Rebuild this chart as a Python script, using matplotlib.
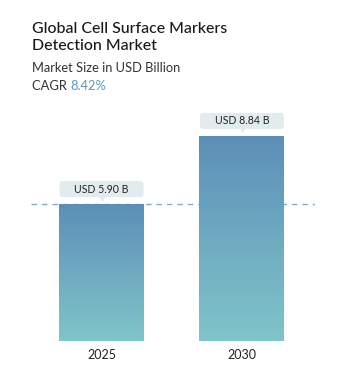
import numpy as np
import matplotlib
matplotlib.use("Agg")
import matplotlib.pyplot as plt
from matplotlib.colors import LinearSegmentedColormap
from matplotlib.patches import FancyBboxPatch
from matplotlib.transforms import ScaledTranslation

# data
years = ["2025", "2030"]
values = [5.90, 8.84]
value_labels = ["USD 5.90 B", "USD 8.84 B"]
title_lines = ["Global Cell Surface Markers", "Detection Market"]
subtitle = "Market Size in USD Billion"
cagr = "8.42%"

plt.rcParams["font.family"] = ["Lato", "DejaVu Sans"]

W, H = 346, 375
fig = plt.figure(figsize=(W / 100, H / 100), dpi=100)
renderer = fig.canvas.get_renderer()

# axes in pixel terms: dashed line spans 31..315, bars stand on y=341
ax_left, ax_right = 31, 315
ax_bottom, ax_top = 341, 100
px_per_unit = 23.2
ax = fig.add_axes([ax_left / W, (H - ax_bottom) / H,
                   (ax_right - ax_left) / W, (ax_bottom - ax_top) / H])

x = np.arange(len(years))
bar_w = 0.605
ax.set_xlim(-0.502, 1.52)
ax.set_ylim(0, (ax_bottom - ax_top) / px_per_unit)
px_x = 1 / 140.5          # one pixel in x data units
px_y = 1 / px_per_unit    # one pixel in y data units

cmap = LinearSegmentedColormap.from_list("bar", ["#80c5c9", "#5c8fb8"])
grad = np.linspace(0, 1, 256).reshape(-1, 1)

bars = ax.bar(x, values, width=bar_w, color="none", edgecolor="none")
for b in bars:
    x0, y0, w, h = b.get_x(), b.get_y(), b.get_width(), b.get_height()
    im = ax.imshow(grad, cmap=cmap, origin="lower", aspect="auto",
                   extent=[x0, x0 + w, y0, y0 + h], zorder=2)
    im.set_clip_path(b)

# dashed reference line at the first bar's value
ax.axhline(values[0], color="#86acd0", lw=1.0, ls=(0, (4, 3.5)), zorder=1)

# value callouts
box_col = "#e2ebee"
for xi, v, lab in zip(x, values, value_labels):
    bw = 84 * px_x
    y_lo = v + 7 * px_y
    y_hi = v + 23 * px_y
    box = FancyBboxPatch((xi - bw / 2, y_lo), bw, y_hi - y_lo,
                         boxstyle="round,pad=0,rounding_size=%f" % (3 * px_x),
                         mutation_aspect=px_y / px_x,
                         fc=box_col, ec="none", zorder=4, clip_on=False)
    ax.add_patch(box)
    ax.plot([xi], [y_lo - 1.5 * px_y], marker="v", ms=5, color=box_col,
            zorder=4, clip_on=False, mec="none")
    ax.text(xi, (y_lo + y_hi) / 2, lab, ha="center", va="center",
            fontsize=7.6, color="#222222", zorder=5)

ax.set_xticks(x)
ax.set_xticklabels(years, fontsize=9, color="#222222")
ax.tick_params(axis="x", length=0, pad=6)
ax.set_yticks([])
for s in ax.spines.values():
    s.set_visible(False)


def fit_width(t, target_px):
    w = t.get_window_extent(renderer).width
    t.set_fontsize(t.get_fontsize() * target_px / w)


# header text
t1 = fig.text(32 / W, 1 - 29 / H, title_lines[0], fontsize=11,
              fontweight="medium", color="#1a1a1a", va="center", ha="left")
fit_width(t1, 196)
fig.text(32 / W, 1 - 46.5 / H, title_lines[1], fontsize=t1.get_fontsize(),
         fontweight="medium", color="#1a1a1a", va="center", ha="left")
ts = fig.text(32 / W, 1 - 68 / H, subtitle, fontsize=9, color="#333333",
              va="center", ha="left")
fit_width(ts, 150)
t = fig.text(32 / W, 1 - 86.5 / H, "CAGR ", fontsize=ts.get_fontsize(),
             color="#333333", va="center", ha="left")
bb = t.get_window_extent(renderer)
fig.text(bb.x1 / W, 1 - 86.5 / H, cagr, fontsize=ts.get_fontsize(),
         color="#5f95c6", va="center", ha="left")

fig.savefig("out.png", dpi=100)
